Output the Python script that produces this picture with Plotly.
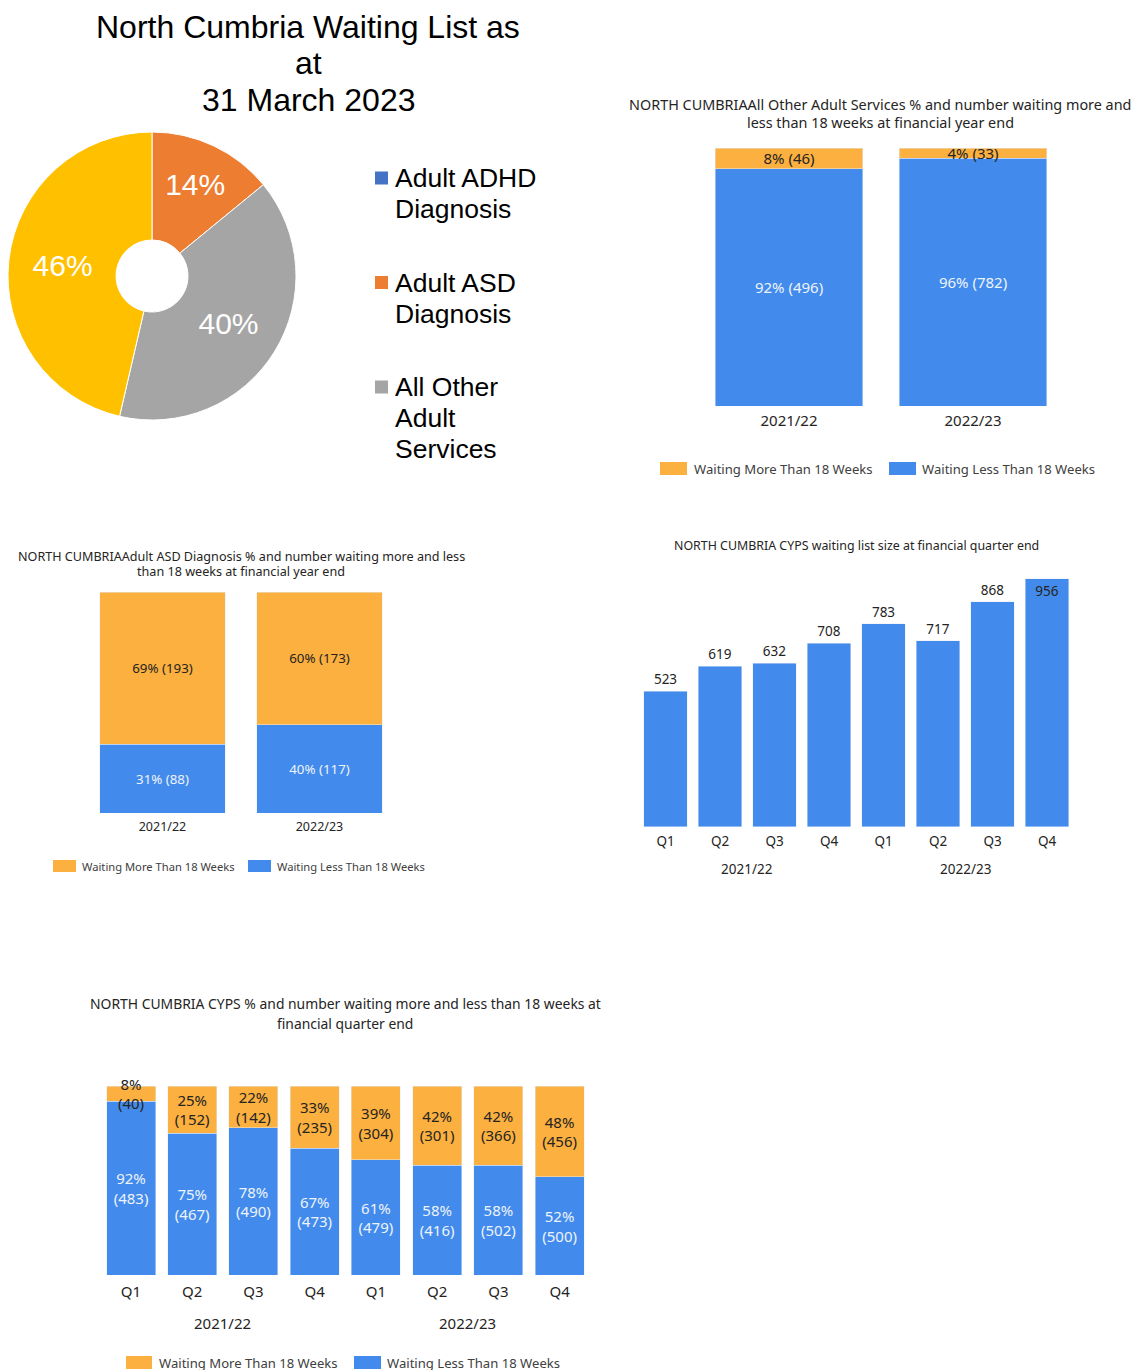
import plotly.graph_objects as go

W, H = 1140, 1370


def px(x):
    return x / W


def py(y):
    return 1 - y / H


# ---- Waiting list composition (donut) ----
services = ["Adult ADHD Diagnosis", "Adult ASD Diagnosis", "All Other Adult Services", "CYPS"]
service_totals = [0, 290, 815, 956]
service_colors = ["#4472C4", "#ED7D31", "#A5A5A5", "#FFC000"]
legend_lines = [["Adult ADHD", "Diagnosis"], ["Adult ASD", "Diagnosis"], ["All Other", "Adult", "Services"]]

# ---- All Other Adult Services by year ----
years = ["2021/22", "2022/23"]
other_more_pct = [8, 4]
other_more_n = [46, 33]
other_less_pct = [92, 96]
other_less_n = [496, 782]

# ---- Adult ASD Diagnosis by year ----
asd_more_pct = [69, 60]
asd_more_n = [193, 173]
asd_less_pct = [31, 40]
asd_less_n = [88, 117]

# ---- CYPS by quarter ----
quarters = ["Q1", "Q2", "Q3", "Q4", "Q1", "Q2", "Q3", "Q4"]
quarter_years = ["2021/22"] * 4 + ["2022/23"] * 4
cyps_size = [523, 619, 632, 708, 783, 717, 868, 956]
cyps_more_pct = [8, 25, 22, 33, 39, 42, 42, 48]
cyps_more_n = [40, 152, 142, 235, 304, 301, 366, 456]
cyps_less_pct = [92, 75, 78, 67, 61, 58, 58, 52]
cyps_less_n = [483, 467, 490, 473, 479, 416, 502, 500]

ORANGE = "#FBB03F"
BLUE = "#428BEC"
DARK = "#252423"
LIGHT = "#EEF3FB"
FONT = "Segoe UI, Noto Sans, Open Sans, sans-serif"
ARIAL = "Liberation Sans, Arial, sans-serif"

fig = go.Figure()

total = sum(service_totals)
pie_text = [f"{round(v / total * 100)}%" if v > 0 else "" for v in service_totals]
fig.add_trace(go.Pie(
    labels=services, values=service_totals, text=pie_text, textinfo="text",
    sort=False, direction="clockwise", rotation=0, hole=0.25,
    marker=dict(colors=service_colors, line=dict(color="white", width=1)),
    textposition="inside", insidetextorientation="horizontal",
    textfont=dict(family=ARIAL, size=30, color="white"),
    domain=dict(x=[px(8), px(296)], y=[py(420), py(132)]),
    hoverinfo="label+percent", showlegend=False,
))


def stacked(xs, less_pct, less_n, more_pct, more_n, xa, ya, size, two_line=False):
    sep = "<br>" if two_line else " "
    fig.add_trace(go.Bar(
        x=xs, y=less_pct, xaxis=xa, yaxis=ya, marker_color=BLUE,
        text=[f"{p}%{sep}({n})" for p, n in zip(less_pct, less_n)],
        textposition="inside", insidetextanchor="middle", constraintext="none",
        textangle=0, cliponaxis=False,
        textfont=dict(family=FONT, size=size, color=LIGHT),
        name="Waiting Less Than 18 Weeks", showlegend=False,
    ))
    fig.add_trace(go.Bar(
        x=xs, y=more_pct, xaxis=xa, yaxis=ya, marker_color=ORANGE,
        text=[f"{p}%{sep}({n})" for p, n in zip(more_pct, more_n)],
        textposition="inside", insidetextanchor="middle", constraintext="none",
        textangle=0, cliponaxis=False,
        textfont=dict(family=FONT, size=size, color=DARK),
        name="Waiting More Than 18 Weeks", showlegend=False,
    ))


stacked(years, other_less_pct, other_less_n, other_more_pct, other_more_n, "x", "y", 15)
stacked(years, asd_less_pct, asd_less_n, asd_more_pct, asd_more_n, "x2", "y2", 13.3)

qidx = list(range(len(quarters)))
fig.add_trace(go.Bar(
    x=qidx, y=cyps_size, xaxis="x3", yaxis="y3", marker_color=BLUE,
    text=[str(v) for v in cyps_size],
    textposition=["outside"] * 7 + ["inside"], insidetextanchor="end",
    constraintext="none", textangle=0, cliponaxis=False,
    textfont=dict(family=FONT, size=13.5, color=DARK),
    outsidetextfont=dict(family=FONT, size=13.5, color=DARK),
    insidetextfont=dict(family=FONT, size=13.5, color=DARK),
    showlegend=False,
))
stacked(qidx, cyps_less_pct, cyps_less_n, cyps_more_pct, cyps_more_n, "x4", "y4", 15, two_line=True)


def xaxis_cfg(left, right, size, anchor, **kw):
    d = dict(domain=[px(left), px(right)], anchor=anchor, showgrid=False, zeroline=False,
             showline=False, ticks="", tickfont=dict(family=FONT, size=size, color=DARK),
             fixedrange=True)
    d.update(kw)
    return d


def yaxis_cfg(bottom, top, rng, anchor):
    return dict(domain=[py(bottom), py(top)], range=rng, anchor=anchor, showgrid=False,
                zeroline=False, showline=False, showticklabels=False, ticks="", fixedrange=True)


qaxis = dict(tickmode="array", tickvals=qidx, ticktext=quarters, range=[-0.5, len(quarters) - 0.5])

fig.update_layout(
    width=W, height=H, margin=dict(l=0, r=0, t=0, b=0),
    paper_bgcolor="white", plot_bgcolor="white",
    barmode="stack", bargap=0.2,
    xaxis=xaxis_cfg(697, 1065, 15, "y", type="category", ticklabelstandoff=4),
    yaxis=yaxis_cfg(406, 148, [0, 100], "x"),
    xaxis2=xaxis_cfg(84, 398, 12.5, "y2", type="category", ticklabelstandoff=4),
    yaxis2=yaxis_cfg(813, 592, [0, 100], "x2"),
    xaxis3=xaxis_cfg(638.25, 1074.25, 13.5, "y3", ticklabelstandoff=4, **qaxis),
    yaxis3=yaxis_cfg(827, 827 - 1000 * 248 / 956, [0, 1000], "x3"),
    xaxis4=xaxis_cfg(100.4, 590.2, 15, "y4", ticklabelstandoff=6, **qaxis),
    yaxis4=yaxis_cfg(1275, 1086, [0, 100], "x4"),
)

ann = []


def text(x, y, s, size, family=FONT, color=DARK, anchor="center"):
    ann.append(dict(x=px(x), y=py(y), xref="paper", yref="paper", text=s, showarrow=False,
                    xanchor=anchor, yanchor="middle",
                    font=dict(family=family, size=size, color=color)))


# Donut title and legend
for i, line in enumerate(["North Cumbria Waiting List as", "at", "31 March 2023"]):
    text(308, 27 + i * 36.5, line, 32, family=ARIAL, color="black")

shapes = []


def square(x0, y0, x1, y1, color):
    shapes.append(dict(type="rect", xref="paper", yref="paper", x0=px(x0), x1=px(x1),
                       y0=py(y1), y1=py(y0), fillcolor=color, line=dict(width=0)))


for k, lines in enumerate(legend_lines):
    top = 178 + k * 104.5
    square(375, top - 6.5, 388, top + 6.5, service_colors[k])
    for j, line in enumerate(lines):
        text(393, top + j * 31, line, 26.5, family=ARIAL, color="black", anchor="left")

# Bar chart titles
text(880, 104.5, "NORTH CUMBRIAAll Other Adult Services % and number waiting more and", 14.4)
text(880, 122.5, "less than 18 weeks at financial year end", 14.4)
text(241, 556, "NORTH CUMBRIAAdult ASD Diagnosis % and number waiting more and less", 12.6)
text(241, 571, "than 18 weeks at financial year end", 12.6)
text(856, 545, "NORTH CUMBRIA CYPS waiting list size at financial quarter end", 12.4)
text(345, 1003, "NORTH CUMBRIA CYPS % and number waiting more and less than 18 weeks at", 13.9)
text(345, 1023, "financial quarter end", 13.9)

# Year group labels under the quarterly charts
for yr in dict.fromkeys(quarter_years):
    idx = [i for i, q in enumerate(quarter_years) if q == yr]
    mid = sum(idx) / len(idx)
    ann.append(dict(x=mid, y=py(869), xref="x3", yref="paper", text=yr, showarrow=False,
                    xanchor="center", yanchor="middle", font=dict(family=FONT, size=13.5, color=DARK)))
    ann.append(dict(x=mid, y=py(1323), xref="x4", yref="paper", text=yr, showarrow=False,
                    xanchor="center", yanchor="middle", font=dict(family=FONT, size=15, color=DARK)))


# Bar chart legends
def bar_legend(yc, o_sq, o_tx, b_sq, b_tx, hh, size):
    square(o_sq[0], yc - hh, o_sq[1], yc + hh, ORANGE)
    text(o_tx, yc, "Waiting More Than 18 Weeks", size, color="#404040", anchor="left")
    square(b_sq[0], yc - hh, b_sq[1], yc + hh, BLUE)
    text(b_tx, yc, "Waiting Less Than 18 Weeks", size, color="#404040", anchor="left")


bar_legend(468.5, (660, 687), 692, (889, 916), 920, 6.5, 13.1)
bar_legend(866, (53, 76), 80, (248, 271), 275, 6, 11.2)
bar_legend(1362.5, (126, 152), 157, (354, 381), 385, 6.5, 13.1)

fig.update_layout(annotations=ann, shapes=shapes)
fig.write_html("out.html")
